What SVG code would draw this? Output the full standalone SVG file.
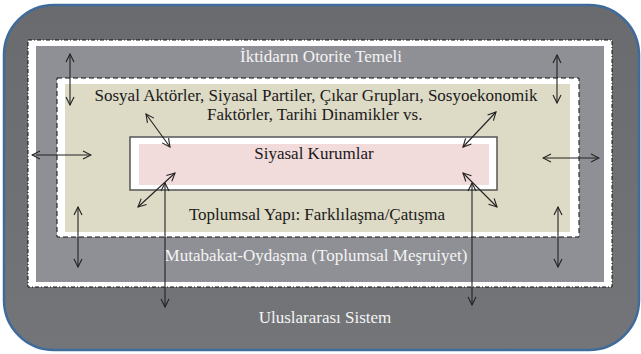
<svg xmlns="http://www.w3.org/2000/svg" width="641" height="354" viewBox="0 0 641 354">
<defs>
<linearGradient id="og" x1="0" y1="0" x2="0" y2="1">
<stop offset="0" stop-color="#6a6b6f"/>
<stop offset="1" stop-color="#747579"/>
</linearGradient>
<marker id="ah" viewBox="0 0 10 10" refX="9" refY="5" markerWidth="10" markerHeight="10" markerUnits="userSpaceOnUse" orient="auto-start-reverse">
<path d="M1,1 L9,5 L1,9" fill="none" stroke="#222" stroke-width="1.1"/>
</marker>
<style>
.t{font-family:"Liberation Serif","Times New Roman",serif;font-size:17px;}
.w{fill:#f4f4f4;}
.k{fill:#1a1a1a;}
.a{stroke:#222;stroke-width:1.1;fill:none;marker-start:url(#ah);marker-end:url(#ah);}
</style>
</defs>
<g id="uluslararasi">
<rect x="4" y="5" width="635" height="345" rx="50" ry="50" fill="url(#og)" stroke="#3f6b9c" stroke-width="2.5"/>
<text class="t w" x="325" y="323" text-anchor="middle" font-family="Liberation Serif, serif">Uluslararası Sistem</text>
</g>
<g id="iktidar">
<rect x="28" y="40" width="584" height="247" fill="#ffffff" stroke="#111" stroke-width="1" stroke-dasharray="4,2,1,2"/>
<rect x="36" y="46" width="568" height="236" fill="#8f9095"/>
<text class="t w" x="321" y="62" text-anchor="middle" font-family="Liberation Serif, serif">İktidarın Otorite Temeli</text>
<text class="t w" x="316" y="261" text-anchor="middle" font-family="Liberation Serif, serif">Mutabakat-Oydaşma (Toplumsal Meşruiyet)</text>
</g>
<g id="toplumsal">
<rect x="57" y="78" width="522" height="159" fill="#ffffff" stroke="#111" stroke-width="1" stroke-dasharray="5,3"/>
<rect x="65" y="84" width="505" height="148" fill="#dddac6"/>
<text class="t k" x="316" y="101" text-anchor="middle" font-family="Liberation Serif, serif">Sosyal Aktörler, Siyasal Partiler, Çıkar Grupları, Sosyoekonomik</text>
<text class="t k" x="207" y="120" font-family="Liberation Serif, serif">Faktörler, Tarihi Dinamikler vs.</text>
<text class="t k" x="317" y="220" text-anchor="middle" font-family="Liberation Serif, serif">Toplumsal Yapı: Farklılaşma/Çatışma</text>
</g>
<g id="siyasal">
<rect x="130" y="137" width="367" height="53" fill="#ffffff" stroke="#555" stroke-width="1.5"/>
<rect x="139" y="144" width="350" height="41" fill="#f2dbdb"/>
<text class="t k" x="314" y="159" text-anchor="middle" font-family="Liberation Serif, serif">Siyasal Kurumlar</text>
</g>
<g id="connectors">
<line class="a" x1="70" y1="54" x2="70" y2="105"/>
<line class="a" x1="32" y1="155" x2="91" y2="155"/>
<line class="a" x1="146" y1="114" x2="170" y2="147"/>
<line class="a" x1="557" y1="55" x2="557" y2="103"/>
<line class="a" x1="496" y1="112" x2="463" y2="147"/>
<line class="a" x1="543" y1="158" x2="599" y2="158"/>
<line class="a" x1="175" y1="173" x2="138" y2="207"/>
<line class="a" x1="165" y1="183" x2="165" y2="307"/>
<line class="a" x1="463" y1="173" x2="497" y2="207"/>
<line class="a" x1="472" y1="183" x2="472" y2="305"/>
<line class="a" x1="558" y1="207" x2="558" y2="267"/>
<line class="a" x1="78" y1="207" x2="78" y2="267"/>
</g>
</svg>
